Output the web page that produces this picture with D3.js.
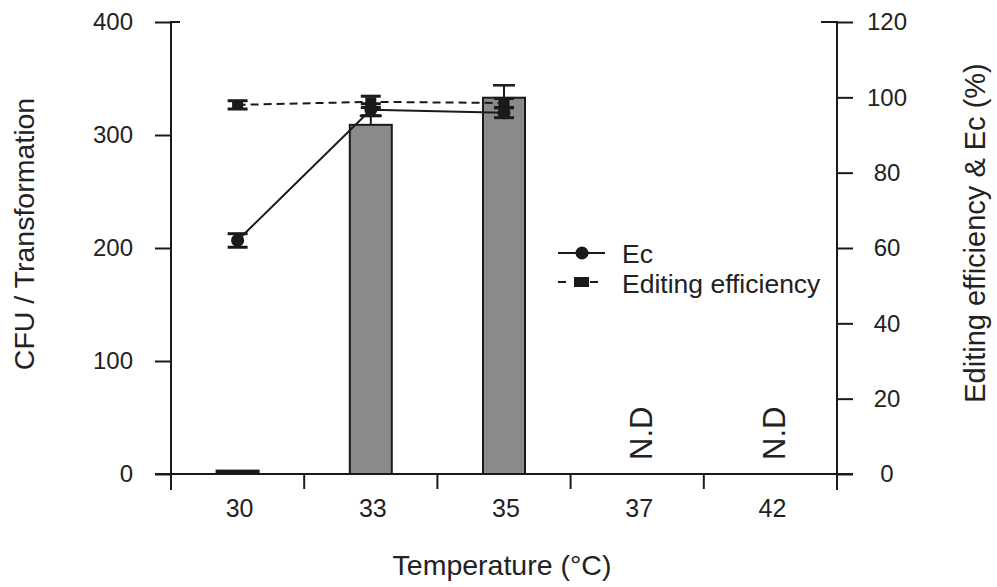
<!DOCTYPE html>
<html>
<head>
<meta charset="utf-8">
<script src="https://cdn.jsdelivr.net/npm/d3@7"></script>
<style>
  body { margin: 0; background: #fff; }
  text { font-family: "Liberation Sans", Arial, sans-serif; fill: #222; }
</style>
</head>
<body>
<script>
// values
var categories = ['30', '33', '35', '37', '42']
var cfu     = [3, 309, 333, null, null]      // bars, left axis
var cfuErr  = [0, 8, 11, null, null]
var ec      = [62, 96.7, 95.9, null, null]   // right axis, %
var ecErr   = [1.8, 1.6, 1.3, null, null]
var edit    = [98.0, 98.8, 98.5, null, null] // right axis, %
var editErr = [1.1, 1.5, 1.2, null, null]
var leftTicks  = [0, 100, 200, 300, 400]
var rightTicks = [0, 20, 40, 60, 80, 100, 120]

var W = 997, H = 587
var plot = {left: 171, right: 837, top: 22, bottom: 474}

var svg = d3.select('body').append('svg')
  .attr('width', W).attr('height', H)

var x = d3.scaleBand().domain(categories).range([plot.left, plot.right])
var yL = d3.scaleLinear().domain([0, 400]).range([plot.bottom, plot.top])
var yR = d3.scaleLinear().domain([0, 120]).range([plot.bottom, plot.top])

var ink = '#1a1a1a'
var barW = 42

// bars
var rows = categories.map((c, i) => ({c: c, v: cfu[i], e: cfuErr[i], ec: ec[i], ecE: ecErr[i], ed: edit[i], edE: editErr[i]}))
var withBars = rows.filter(d => d.v != null)

// bar error bars (drawn first, bar covers lower half)
svg.selectAll('.berr').data(withBars.filter(d => d.e > 0)).join('g').each(function(d) {
  var g = d3.select(this), cx = x(d.c) + x.bandwidth() / 2
  g.append('line').attr('x1', cx).attr('x2', cx).attr('y1', yL(d.v)).attr('y2', yL(d.v + d.e))
    .attr('stroke', ink).attr('stroke-width', 2)
  g.append('line').attr('x1', cx - 11).attr('x2', cx + 11).attr('y1', yL(d.v + d.e)).attr('y2', yL(d.v + d.e))
    .attr('stroke', ink).attr('stroke-width', 2.5)
})

svg.selectAll('.bar').data(withBars).join('rect')
  .attr('x', d => x(d.c) + x.bandwidth() / 2 - barW / 2)
  .attr('y', d => yL(d.v))
  .attr('width', barW)
  .attr('height', d => yL(0) - yL(d.v))
  .attr('fill', d => d.v < 10 ? ink : '#8a8a8a')
  .attr('stroke', ink).attr('stroke-width', 2)

// axes
var axisL = svg.append('g').attr('transform', 'translate(' + plot.left + ',0)')
  .call(d3.axisLeft(yL).tickValues(leftTicks).tickSize(16).tickPadding(22))
axisL.select('.domain').remove()
axisL.selectAll('line').attr('stroke', ink).attr('stroke-width', 2)
axisL.selectAll('text').style('font-size', '24px').attr('fill', '#222')
axisL.append('line').attr('x1', 0).attr('x2', 0).attr('y1', plot.top - 1).attr('y2', plot.bottom + 16)
  .attr('stroke', ink).attr('stroke-width', 2)
axisL.append('line').attr('x1', 0).attr('x2', 9).attr('y1', plot.top).attr('y2', plot.top)
  .attr('stroke', ink).attr('stroke-width', 2)

var axisR = svg.append('g').attr('transform', 'translate(' + plot.right + ',0)')
  .call(d3.axisRight(yR).tickValues(rightTicks).tickSize(16).tickPadding(34))
axisR.select('.domain').remove()
axisR.selectAll('line').attr('stroke', ink).attr('stroke-width', 2)
axisR.selectAll('text').style('font-size', '24px').attr('text-anchor', 'middle').attr('fill', '#222')
axisR.append('line').attr('x1', 0).attr('x2', 0).attr('y1', plot.top - 1).attr('y2', plot.bottom + 16)
  .attr('stroke', ink).attr('stroke-width', 2)
axisR.append('line').attr('x1', -16).attr('x2', 0).attr('y1', plot.top).attr('y2', plot.top)
  .attr('stroke', ink).attr('stroke-width', 2)

// x axis: line plus ticks at category boundaries
svg.append('line').attr('x1', plot.left - 16).attr('x2', plot.right + 16)
  .attr('y1', plot.bottom).attr('y2', plot.bottom).attr('stroke', ink).attr('stroke-width', 2)
svg.selectAll('.xtick').data(categories.slice(1)).join('line')
  .attr('x1', d => x(d)).attr('x2', d => x(d))
  .attr('y1', plot.bottom).attr('y2', plot.bottom + 15)
  .attr('stroke', ink).attr('stroke-width', 2)
svg.selectAll('.xlab').data(categories).join('text')
  .attr('x', d => x(d) + x.bandwidth() / 2 + 2)
  .attr('y', 517)
  .attr('text-anchor', 'middle')
  .style('font-size', '25px')
  .text(d => d)

// N.D labels
svg.selectAll('.nd').data(rows.filter(d => d.v == null)).join('text')
  .attr('transform', d => 'translate(' + (x(d.c) + x.bandwidth() / 2 + 15) + ',460) rotate(-90)')
  .style('font-size', '31px')
  .text('N.D')

// lines
var line = key => d3.line().x(d => x(d.c) + x.bandwidth() / 2).y(d => yR(d[key]))
var pts = rows.filter(d => d.ec != null)

svg.append('path').datum(pts).attr('d', line('ed'))
  .attr('fill', 'none').attr('stroke', ink).attr('stroke-width', 2).attr('stroke-dasharray', '8,5')
svg.append('path').datum(pts).attr('d', line('ec'))
  .attr('fill', 'none').attr('stroke', ink).attr('stroke-width', 2)

function errBars(key, ekey) {
  svg.append('g').selectAll('g').data(pts).join('g').each(function(d) {
    var g = d3.select(this), cx = x(d.c) + x.bandwidth() / 2
    var hi = yR(d[key] + d[ekey]), lo = yR(d[key] - d[ekey])
    g.append('line').attr('x1', cx).attr('x2', cx).attr('y1', hi).attr('y2', lo)
      .attr('stroke', ink).attr('stroke-width', 2)
    ;[hi, lo].forEach(yy => g.append('line').attr('x1', cx - 10).attr('x2', cx + 10)
      .attr('y1', yy).attr('y2', yy).attr('stroke', ink).attr('stroke-width', 3))
  })
}
errBars('ed', 'edE')
errBars('ec', 'ecE')

svg.append('g').selectAll('rect').data(pts).join('rect')
  .attr('x', d => x(d.c) + x.bandwidth() / 2 - 5.5)
  .attr('y', d => yR(d.ed) - 4.5)
  .attr('width', 11).attr('height', 9).attr('fill', ink)
svg.append('g').selectAll('circle').data(pts).join('circle')
  .attr('cx', d => x(d.c) + x.bandwidth() / 2)
  .attr('cy', d => yR(d.ec))
  .attr('r', 6.5).attr('fill', ink)

// legend
var lg = svg.append('g').attr('transform', 'translate(558,253)')
lg.append('line').attr('x1', 0).attr('x2', 47).attr('stroke', ink).attr('stroke-width', 2)
lg.append('circle').attr('cx', 24).attr('r', 6.5).attr('fill', ink)
lg.append('text').attr('x', 64).attr('y', 10).style('font-size', '26.5px').text('Ec')
lg.append('line').attr('x1', 0).attr('x2', 47).attr('y1', 29).attr('y2', 29)
  .attr('stroke', ink).attr('stroke-width', 2).attr('stroke-dasharray', '8,8')
lg.append('rect').attr('x', 16).attr('y', 24).attr('width', 15).attr('height', 10).attr('fill', ink)
lg.append('text').attr('x', 64).attr('y', 40).style('font-size', '26.5px').text('Editing efficiency')

// axis titles
svg.append('text').attr('transform', 'translate(34,234) rotate(-90)')
  .attr('text-anchor', 'middle').style('font-size', '28.5px').text('CFU / Transformation')
svg.append('text').attr('transform', 'translate(985,233) rotate(-90)')
  .attr('text-anchor', 'middle').style('font-size', '29px').text('Editing efficiency & Ec (%)')
svg.append('text').attr('x', 502).attr('y', 575)
  .attr('text-anchor', 'middle').style('font-size', '28.5px').text('Temperature (°C)')
</script>
</body>
</html>
